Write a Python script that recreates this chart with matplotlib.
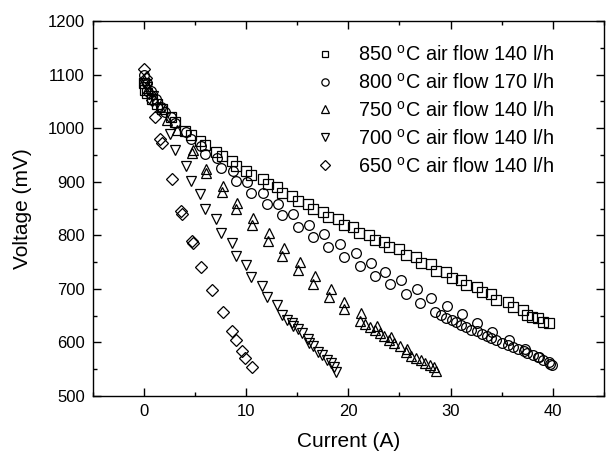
import matplotlib
matplotlib.use('Agg')
import matplotlib.pyplot as plt
from matplotlib.ticker import MultipleLocator

plt.rcParams['font.family'] = ['Liberation Sans', 'DejaVu Sans']
plt.rcParams['mathtext.fontset'] = 'custom'
plt.rcParams['mathtext.rm'] = 'Liberation Sans'

labels = [r'850 $^{\mathrm{o}}$C air flow 140 l/h',
          r'800 $^{\mathrm{o}}$C air flow 170 l/h',
          r'750 $^{\mathrm{o}}$C air flow 140 l/h',
          r'700 $^{\mathrm{o}}$C air flow 140 l/h',
          r'650 $^{\mathrm{o}}$C air flow 140 l/h']
markers = ['s', 'o', '^', 'v', 'D']

# 850 C, 140 l/h
i850 = [0.0, 0.05, 0.3, 0.8, 1.3, 1.8, 2.6, 3.0, 4.0, 4.6, 5.5, 6.0, 7.0, 7.6, 8.6, 9.0,
        10.0, 10.5, 11.6, 12.1, 13.0, 13.5, 14.5, 15.1, 16.0, 16.5, 17.5, 18.0,
        19.0, 19.6, 20.5, 21.0, 22.0, 22.6, 23.5, 24.0, 25.0, 25.6, 26.6, 27.1,
        28.1, 28.6, 29.6, 30.1, 31.0, 31.5, 32.6, 33.1, 34.0, 34.5, 35.6, 36.1,
        37.1, 37.5, 38.0, 38.6, 39.1, 39.6]
v850 = [1085, 1072, 1065, 1055, 1045, 1035, 1021, 1011, 995, 987, 976, 968, 955, 948, 939, 929,
        920, 912, 905, 896, 890, 879, 873, 864, 858, 849, 843, 834,
        830, 819, 815, 804, 800, 791, 787, 778, 774, 763, 759, 748,
        746, 733, 731, 720, 717, 707, 703, 694, 690, 679, 675, 666,
        661, 651, 647, 646, 638, 636]

# 800 C, 170 l/h
i800 = [0.0, 0.3, 0.7, 1.2, 1.7, 2.0, 2.6, 3.0, 4.1, 4.6, 5.6, 6.0, 7.1, 7.5, 8.7, 9.0,
        10.1, 10.5, 11.6, 12.0, 13.1, 13.5, 14.6, 15.1, 16.1, 16.5, 17.6, 18.0,
        19.2, 19.6, 20.7, 21.1, 22.2, 22.6, 23.6, 24.1, 25.2, 25.6, 26.7, 27.0, 28.1,
        28.5, 29.1, 29.6, 30.1, 30.5, 31.0, 31.5, 32.0, 32.6, 33.1, 33.6, 34.0,
        34.5, 35.0, 35.6, 36.1, 36.6, 37.2, 37.5, 38.1, 38.6, 39.1, 39.6, 39.9,
        29.7, 31.1, 32.6, 34.1, 35.7, 37.3, 38.7, 39.7]
v800 = [1100, 1085, 1070, 1055, 1040, 1030, 1021, 1010, 993, 980, 967, 952, 944, 926, 920, 901,
        899, 879, 879, 858, 858, 838, 840, 815, 819, 797, 802, 778,
        784, 759, 767, 743, 748, 724, 731, 709, 717, 690, 700, 674, 683,
        657, 651, 646, 642, 638, 633, 629, 623, 621, 616, 612, 608,
        605, 599, 595, 591, 588, 584, 580, 577, 573, 567, 563, 558,
        668, 653, 636, 619, 605, 588, 573, 560]

# 750 C, 140 l/h
i750 = [0.0, 0.4, 1.0, 1.6, 2.2, 3.2, 4.8, 4.7, 6.1, 6.1, 7.7, 7.6, 9.1, 9.0,
        10.7, 10.6, 12.2, 12.1, 13.7, 13.5, 15.3, 15.1, 16.7, 16.5, 18.3, 18.1,
        19.6, 19.6, 21.2, 21.1, 21.6, 22.1, 22.6, 22.8, 23.1, 23.5, 24.2, 24.0,
        24.5, 25.1, 25.7, 25.6, 26.1, 26.6, 27.1, 27.5, 28.0, 28.4, 28.6]
v750 = [1090, 1075, 1055, 1039, 1015, 997, 959, 953, 924, 916, 892, 881, 860, 849,
        832, 819, 804, 789, 776, 761, 750, 735, 724, 709, 700, 685,
        675, 662, 655, 640, 634, 629, 623, 631, 618, 612, 610, 605,
        599, 593, 588, 582, 575, 571, 567, 562, 558, 554, 547]

# 700 C, 140 l/h
i700 = [0.0, 0.3, 0.9, 1.6, 2.5, 3.0, 4.1, 4.6, 5.5, 6.0, 7.0, 7.5, 8.6, 9.0,
        10.0, 10.5, 11.5, 12.0, 13.0, 13.5, 14.0, 14.5, 14.6, 15.1, 15.5, 16.0,
        16.1, 16.5, 17.0, 17.4, 17.9, 18.3, 18.6, 18.8]
v700 = [1085, 1077, 1060, 1036, 989, 959, 929, 902, 877, 849, 831, 804, 786, 761,
        745, 722, 705, 685, 670, 651, 642, 636, 631, 625, 618, 606,
        599, 593, 582, 576, 567, 562, 554, 545]

# 650 C, 140 l/h
i650 = [-0.05, 0.15, 0.5, 0.8, 1.1, 1.6, 1.75, 2.7, 3.65, 3.75, 4.65, 4.75, 5.6, 6.6,
        7.7, 8.6, 9.0, 9.6, 9.9, 10.6]
v650 = [1110, 1093, 1066, 1052, 1021, 980, 972, 905, 845, 840, 790, 786, 741, 698,
        656, 622, 605, 584, 571, 555]

currents = [i850, i800, i750, i700, i650]
voltages = [v850, v800, v750, v700, v650]
sizes = [6.5, 7, 7.5, 7.5, 6.5]

fig = plt.figure(figsize=(6.08, 4.57), dpi=100)
ax = fig.add_axes([0.153, 0.1335, 0.840, 0.8205])

for k in range(len(labels)):
    ax.plot(currents[k], voltages[k], linestyle='none', marker=markers[k],
            markersize=sizes[k], markerfacecolor='none', markeredgecolor='black',
            markeredgewidth=0.9, label=labels[k])

ax.set_xlim(-5, 45)
ax.set_ylim(500, 1200)
ax.xaxis.set_major_locator(MultipleLocator(10))
ax.xaxis.set_minor_locator(MultipleLocator(5))
ax.yaxis.set_major_locator(MultipleLocator(100))
ax.yaxis.set_minor_locator(MultipleLocator(50))
ax.tick_params(which='both', direction='in', top=True, right=True, labelsize=12, pad=6)
ax.tick_params(which='major', length=5.5, width=1)
ax.tick_params(which='minor', length=2.7, width=1)
for s in ax.spines.values():
    s.set_linewidth(1)

ax.set_xlabel('Current (A)', fontsize=15, labelpad=9)
ax.set_ylabel('Voltage (mV)', fontsize=15, labelpad=11)

ax.legend(loc='upper left', bbox_to_anchor=(0.395, 0.985), frameon=False, fontsize=14.3,
          markerscale=0.75, handlelength=1.2, handletextpad=1.1, labelspacing=0.4)

fig.savefig('out.png', dpi=100)
